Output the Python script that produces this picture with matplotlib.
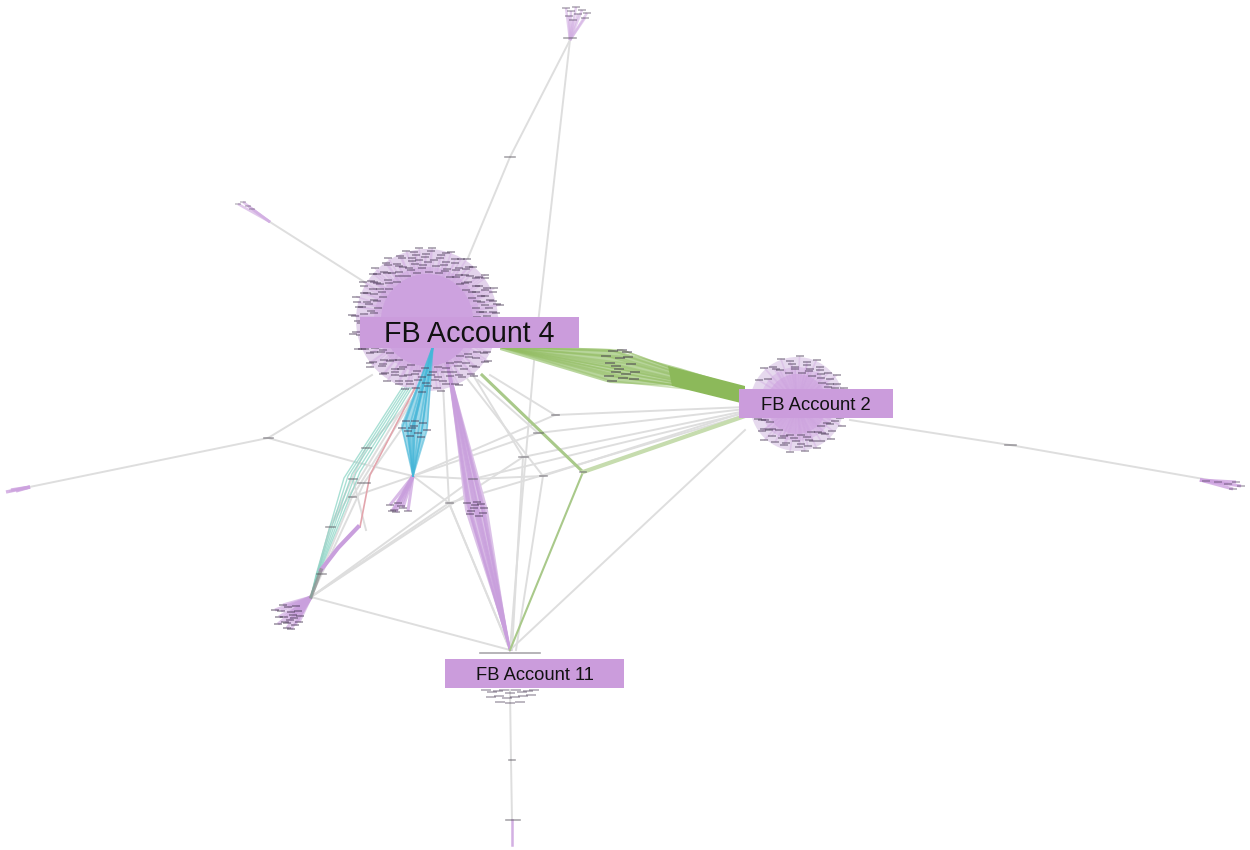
import matplotlib
matplotlib.use('Agg')
import matplotlib.pyplot as plt
import numpy as np

plt.rcParams['font.family'] = ['Liberation Sans', 'DejaVu Sans']

# node positions (image pixels)
hub4 = (427, 320)
hub2 = (797, 404)
hub11 = (510, 650)
top_node = (570, 40)
node_b = (413, 476)
node_l = (311, 597)
node_g = (583, 472)

labels = ['FB Account 4', 'FB Account 2', 'FB Account 11']
label_boxes = [(360, 317, 219, 31), (739, 389, 154, 29), (445, 659, 179, 29)]
label_sizes = [20.6, 13.3, 13.2]

# leaves around the large hubs: one list of angles per ring
hub4_radii = [50, 54, 57, 60, 63, 66, 69, 72, 75]
hub4_angles = [
    [3, 14, 27, 38, 49, 63, 76, 88, 101, 113, 127, 139, 152, 166, 178, 196, 208, 223, 236, 251, 268, 283, 297, 312, 327, 343],
    [9, 21, 33, 46, 57, 70, 95, 107, 121, 134, 147, 159, 172, 201, 215, 231, 244, 259, 276, 291, 305, 319, 335, 350],
    [8, 19, 31, 44, 56, 69, 81, 94, 108, 119, 133, 146, 158, 171, 186, 203, 216, 229, 243, 258, 274, 288, 303, 318, 334, 351],
    [4, 15, 25, 36, 51, 61, 74, 89, 102, 114, 126, 141, 153, 164, 179, 194, 209, 224, 238, 252, 265, 281, 296, 311, 326, 341, 355],
    [1, 11, 23, 34, 47, 59, 72, 84, 97, 104, 116, 129, 142, 149, 163, 174, 189, 199, 212, 226, 239, 248, 262, 277, 291, 306, 321, 338, 356],
    [7, 18, 28, 42, 54, 65, 79, 92, 103, 117, 131, 143, 155, 168, 183, 197, 211, 227, 241, 254, 269, 284, 299, 314, 329, 345],
    [6, 17, 29, 41, 53, 66, 78, 91, 99, 111, 124, 136, 144, 156, 169, 181, 193, 206, 219, 233, 246, 256, 271, 286, 300, 315, 331, 347],
    [2, 13, 24, 37, 50, 62, 75, 87, 100, 112, 125, 138, 151, 165, 177, 190, 205, 218, 232, 247, 261, 278, 293, 308, 323, 339, 353],
    [12, 26, 39, 58, 71, 86, 96, 106, 121, 134, 148, 161, 176, 191, 204, 221, 238, 253, 266, 281, 295, 309, 325, 341],
]
hub2_radii = [33, 36, 39, 42, 45, 50]
hub2_angles = [
    [22, 41, 63, 82, 104, 214, 236, 258, 277, 296, 317, 338],
    [14, 29, 48, 71, 93, 207, 226, 248, 266, 286, 306, 327, 346],
    [16, 33, 52, 71, 93, 116, 139, 205, 224, 247, 268, 288, 309, 328, 345],
    [24, 39, 57, 76, 97, 120, 202, 219, 233, 255, 275, 292, 312, 335, 350],
    [11, 27, 46, 59, 77, 99, 122, 147, 198, 219, 241, 253, 273, 284, 302, 322, 341, 352],
    [19, 37, 67, 87, 109, 131, 229, 262, 279, 293, 313, 333],
]

# small leaf clusters, x and y lists
green_x = [606, 610, 613, 616, 620, 623, 627, 631, 635, 609, 616, 622, 628, 634, 612, 619, 626]
green_y = [356, 363, 351, 372, 358, 378, 352, 364, 372, 376, 366, 350, 357, 379, 381, 369, 374]
cyan_x = [402, 406, 410, 414, 418, 423, 427, 408, 415, 421, 412]
cyan_y = [428, 421, 436, 426, 433, 423, 430, 431, 421, 437, 428]
purple_x = [467, 471, 475, 479, 484, 470, 477, 483, 474, 481]
purple_y = [503, 511, 505, 516, 508, 514, 502, 513, 508, 504]
bcluster_x = [390, 394, 398, 403, 408, 396, 401, 392]
bcluster_y = [505, 510, 503, 508, 511, 512, 506, 511]
lcluster_x = [275, 279, 283, 287, 291, 296, 300, 278, 284, 290, 295, 299, 281, 287, 293, 298, 285, 291, 288, 294]
lcluster_y = [610, 617, 605, 623, 612, 606, 616, 624, 617, 620, 625, 622, 611, 628, 615, 611, 622, 629, 607, 618]
top_x = [566, 571, 576, 582, 587, 569, 578, 585, 573]
top_y = [8, 11, 7, 10, 13, 16, 14, 18, 20]
upleft_x = [238, 243, 248, 252]
upleft_y = [204, 202, 206, 209]
left_x = [6, 11, 16]
left_y = [492, 490, 491]
right_x = [1206, 1218, 1228, 1236, 1241, 1233]
right_y = [481, 482, 484, 482, 486, 489]
bottom_x = [486, 492, 498, 504, 510, 516, 522, 528, 534, 491, 499, 507, 515, 523, 531, 500, 510, 520]
bottom_y = [690, 692, 691, 690, 693, 690, 692, 691, 690, 697, 696, 698, 697, 696, 695, 702, 703, 702]

# small connector nodes
node_x = [268, 510, 512, 1010, 353, 366, 364, 352, 330, 321, 449, 473, 523, 543, 538, 555, 583, 513, 570, 510]
node_y = [438, 157, 760, 445, 479, 448, 483, 497, 527, 574, 503, 479, 457, 476, 433, 415, 472, 820, 38, 653]
node_w = [9, 10, 6, 11, 8, 9, 12, 7, 9, 9, 7, 8, 9, 7, 9, 7, 6, 14, 12, 60]

# plain grey edges, each a list of points
grey_edges = [
    [top_node, (510, 157), (468, 258)],
    [top_node, (535, 350), (522, 500), hub11],
    [(366, 283), (270, 222)],
    [(372, 375), (268, 438), (10, 491)],
    [(268, 438), (355, 462), node_b],
    [(850, 420), (1010, 445), (1232, 484)],
    [(510, 690), (511, 760), (512, 820)],
    [node_l, hub11],
    [hub11, (745, 430)],
    [node_l, (449, 503), (745, 415)],
    [node_l, (473, 479), (745, 413)],
    [node_l, (523, 457), (745, 411)],
    [(352, 497), (538, 433), (745, 409)],
    [node_b, (555, 415), (745, 407)],
    [node_b, (473, 479), (543, 476), (745, 412)],
    [node_b, (449, 503), hub11],
    [(443, 385), (449, 503), hub11],
    [(470, 370), (523, 457), (512, 650)],
    [(462, 372), (543, 476), (516, 650)],
    [(490, 375), (555, 415)],
    [(478, 380), (538, 433)],
    [(415, 388), (330, 527), node_l],
    [(420, 388), (352, 497), node_l],
    [(423, 388), (366, 448), (330, 527), node_l],
    [(430, 388), (364, 483), node_l],
    [(353, 479), (366, 530)],
]


def polar_leaves(center, radii, angles):
    xs = []
    ys = []
    for r, row in zip(radii, angles):
        for a in row:
            xs.append(center[0] + r * np.cos(np.radians(a)))
            ys.append(center[1] - r * np.sin(np.radians(a)) * 0.96)
    return xs, ys


def draw_fan(ax, hub, xs, ys, color, lw=1.4, alpha=0.6):
    for x, y in zip(xs, ys):
        ax.plot([hub[0], x], [hub[1], y], color=color, lw=lw, alpha=alpha, zorder=2, solid_capstyle='butt')


def draw_bundle(ax, start, xs, ys, end, color, lw=1.0, alpha=0.5):
    for x, y in zip(xs, ys):
        ax.plot([start[0], x, end[0]], [start[1], y, end[1]], color=color, lw=lw, alpha=alpha, zorder=3)


def draw_leaves(ax, xs, ys, size=8, alpha=0.5, width=1.2):
    ax.plot(xs, ys, ls='none', marker='_', ms=size, mew=width, color='#43344f', alpha=alpha, zorder=5)


fig = plt.figure(figsize=(12.5, 8.5), dpi=100)
ax = fig.add_axes([0, 0, 1, 1])
ax.set_xlim(0, 1250)
ax.set_ylim(850, 0)
ax.axis('off')

for edge in grey_edges:
    pts = np.array(edge)
    ax.plot(pts[:, 0], pts[:, 1], color='#dedede', lw=1.4, zorder=1)

# big hubs
ax.add_patch(plt.Circle(hub4, 71, color='#e3d3ec', lw=0, zorder=1.5))
ax.add_patch(plt.Circle(hub4, 53, color='#d9bde6', lw=0, zorder=1.55))
ax.add_patch(plt.Circle(hub4, 46, color='#cda2df', lw=0, zorder=1.6))
x4, y4 = polar_leaves(hub4, hub4_radii, hub4_angles)
draw_fan(ax, hub4, x4, y4, '#cda2df', lw=1.2, alpha=0.35)
draw_leaves(ax, x4, y4, size=6, alpha=0.48)

ax.add_patch(plt.Circle(hub2, 47, color='#e6d9ee', lw=0, zorder=1.5))
ax.add_patch(plt.Circle(hub2, 37, color='#dcc3e8', lw=0, zorder=1.55))
ax.add_patch(plt.Circle(hub2, 30, color='#d4afe3', lw=0, zorder=1.6))
x2, y2 = polar_leaves(hub2, hub2_radii, hub2_angles)
draw_fan(ax, hub2, x2, y2, '#cda2df', lw=1.2, alpha=0.35)
draw_leaves(ax, x2, y2, size=6, alpha=0.48)

# coloured bundles
ax.fill([500, 610, 680, 745, 745, 675, 610, 500], [345, 349, 368, 388, 403, 386, 383, 350], color='#b9d69d', lw=0, zorder=2.5)
draw_bundle(ax, (500, 347), green_x, green_y, (745, 395), '#93bd62', lw=1.2, alpha=0.45)
ax.fill([668, 745, 745, 672], [366, 386, 404, 386], color='#8cb95a', lw=0, zorder=3)
draw_leaves(ax, green_x, green_y, size=7, alpha=0.55)

ax.fill([433, 401, 413, 428], [346, 425, 476, 425], color='#9fd9ea', lw=0, zorder=2.5)
draw_bundle(ax, (433, 346), cyan_x, cyan_y, node_b, '#45b6d8', lw=1.2, alpha=0.6)
draw_leaves(ax, cyan_x, cyan_y, size=6, alpha=0.5)

ax.fill([447, 465, 510, 488], [360, 510, 650, 510], color='#dcc2e8', lw=0, zorder=2.5)
draw_bundle(ax, (447, 362), purple_x, purple_y, hub11, '#c99fdd', lw=1.4, alpha=0.7)
draw_leaves(ax, purple_x, purple_y, size=6, alpha=0.5)

draw_fan(ax, node_b, bcluster_x, bcluster_y, '#c99fdd', lw=2.2, alpha=0.7)
draw_leaves(ax, bcluster_x, bcluster_y, size=6, alpha=0.45)
draw_fan(ax, node_l, lcluster_x, lcluster_y, '#c99fdd', lw=2.2, alpha=0.6)
draw_leaves(ax, lcluster_x, lcluster_y, size=6, alpha=0.5)
draw_fan(ax, (570, 40), top_x, top_y, '#d3b0e3', lw=1.8, alpha=0.6)
draw_leaves(ax, top_x, top_y, size=6, alpha=0.4)
draw_fan(ax, (270, 222), upleft_x, upleft_y, '#d3b0e3', lw=1.8, alpha=0.7)
draw_leaves(ax, upleft_x, upleft_y, size=5, alpha=0.3)
draw_fan(ax, (30, 487), left_x, left_y, '#cda2df', lw=2.4, alpha=0.8)
draw_fan(ax, (1200, 480), right_x, right_y, '#cda2df', lw=2.2, alpha=0.8)
draw_leaves(ax, right_x, right_y, size=6, alpha=0.4)
draw_leaves(ax, bottom_x, bottom_y, size=7, alpha=0.42)
ax.plot([512, 512], [820, 845], color='#d3b0e3', lw=1.8, zorder=2)

# teal, pink and small purple strands down the left side
teal_x = [344, 348, 352, 356, 360]
teal_y = [478, 476, 474, 473, 472]
for x, y in zip(teal_x, teal_y):
    ax.plot([402 + (x - 344) * 0.6, x, 316 + (x - 344) * 0.15, 311], [388, y, 575, 597],
            color='#86d3c3', lw=1.0, alpha=0.7, zorder=3)
ax.plot([415, 370, 360], [388, 475, 527], color='#e3a5ad', lw=1.2, zorder=3)
ax.plot([358, 338, 321], [527, 548, 570], color='#c99fdd', lw=3, zorder=3)
ax.plot([321, 311], [570, 597], color='#8c8c8c', lw=2.5, alpha=0.7, zorder=3.5)

# green edges through node_g
ax.plot([482, node_g[0]], [375, node_g[1]], color='#a9c98a', lw=2.2, zorder=3)
ax.plot([node_g[0], hub11[0]], [node_g[1], hub11[1]], color='#a9c98a', lw=1.5, zorder=3)
ax.plot([node_g[0], 745], [node_g[1], 416], color='#c6dcae', lw=3, zorder=3)

for x, y, w in zip(node_x, node_y, node_w):
    ax.plot([x - w / 2, x + w / 2], [y, y], color='#55505a', lw=1.2, alpha=0.5, zorder=5)

for text, box, size in zip(labels, label_boxes, label_sizes):
    ax.add_patch(plt.Rectangle((box[0], box[1]), box[2], box[3], color='#cb9cdc', lw=0, zorder=6))
    ax.text(box[0] + box[2] / 2, box[1] + box[3] / 2 + 1.5, text, fontsize=size, color='#111111',
            ha='center', va='center', zorder=7)

fig.savefig('out.png', dpi=100)
